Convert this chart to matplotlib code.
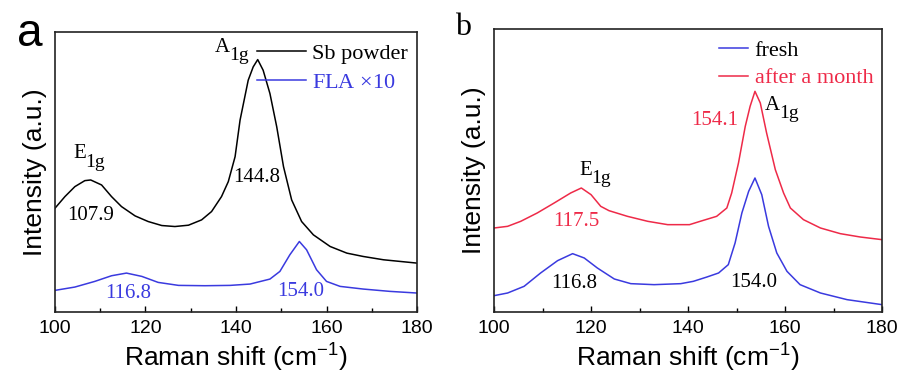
import numpy as np
import matplotlib.pyplot as plt
from matplotlib.transforms import offset_copy

plt.rcParams.update({'font.family': 'Liberation Sans',
                     'mathtext.fontset': 'custom',
                     'mathtext.rm': 'Liberation Serif',
                     'mathtext.sf': 'Liberation Sans'})

# Raman spectra, (a) Sb powder vs FLA (x10)
shift_sb = [100, 102.2, 104.4, 106.6, 107.9, 110.3, 112.5, 114.7, 117.7, 120.6, 123.6,
            126.5, 129.5, 132.4, 134.6, 136.8, 138.3, 139.8, 140.9, 142.7, 143.8, 144.8,
            146.0, 147.5, 149.0, 150.5, 152.3, 154.5, 157.1, 160.8, 164.5, 168.1, 172.6,
            180]
int_sb = [312, 347, 377, 395, 397, 382, 347, 317, 289, 272, 260,
          257, 261, 277, 302, 347, 392, 467, 577, 697, 737, 759,
          727, 657, 557, 437, 337, 272, 232, 197, 177, 167, 157,
          147]

shift_fla = [100, 104.4, 108.8, 112.5, 115.8, 119.2, 122.8, 127.3, 133.1, 138.7, 143.1,
             147.5, 149.7, 151.9, 154.0, 155.6, 157.8, 160.0, 163.0, 168.1, 174.0, 180]
int_fla = [65, 75, 92, 109, 117, 107, 89, 80, 79, 80, 84,
           99, 122, 172, 212, 187, 127, 92, 77, 69, 62, 57]

# (b) FLA fresh vs after a month
shift_month = [100, 102.8, 105.5, 108.9, 112.4, 115.8, 118.0, 120.0, 122.0, 123.7, 127.5,
               131.7, 135.8, 140.3, 142.5, 145.9, 148.0, 149.0, 150.4, 151.8, 152.8, 153.8,
               154.9, 156.2, 158.0, 159.7, 161.1, 163.8, 167.3, 171.4, 175.5, 180]
int_month = [252, 257, 272, 297, 327, 357, 372, 352, 317, 304, 287,
             272, 262, 262, 272, 287, 312, 357, 447, 557, 617, 662,
             627, 537, 427, 357, 312, 277, 252, 235, 225, 217]

shift_fresh = [100, 102.8, 106.2, 109.6, 113.1, 116.2, 118.6, 121.3, 124.8, 128.2, 133.0,
               138.5, 141.1, 143.9, 146.3, 148.3, 149.7, 151.1, 152.5, 153.8, 155.2, 156.6,
               158.3, 160.4, 163.1, 167.3, 172.8, 180]
int_fresh = [49, 57, 77, 117, 154, 175, 162, 132, 99, 85, 82,
             85, 92, 105, 117, 142, 207, 297, 362, 402, 352, 257,
             177, 122, 82, 57, 37, 22]

blue = '#3a3adf'
red = '#ee2a48'
serif = 'Liberation Serif'


def mode_label(ax, x, y, main, sub, color='black'):
    # phonon mode name with a lowered subscript
    t = ax.text(x, y, main, fontsize=15, family=serif, color=color)
    w = 0.722 * 15 if main == 'A' else 0.611 * 15
    tr = offset_copy(ax.transData, fig=ax.figure, x=w - 0.5, y=-6, units='points')
    ax.text(x, y, sub, fontsize=14, family=serif, color=color, transform=tr)
    return t


fig = plt.figure(figsize=(9.04, 3.79), dpi=100)
ax1 = fig.add_axes([0.0608, 0.1768, 0.4005, 0.7388])
ax2 = fig.add_axes([0.5465, 0.1768, 0.4292, 0.7467])

ax1.plot(shift_sb, int_sb, color='black', lw=1.1, label='Sb powder')
ax1.plot(shift_fla, int_fla, color=blue, lw=1.1, label=r'FLA $\times$10')
ax1.set_ylim(0, 842)

ax2.plot(shift_fresh, int_fresh, color=blue, lw=1.1, label='fresh')
ax2.plot(shift_month, int_month, color=red, lw=1.1, label='after a month')
ax2.set_ylim(0, 849)

for ax in (ax1, ax2):
    ax.set_xlim(100, 180)
    ax.set_xticks(np.arange(100, 181, 20))
    ax.set_xticks(np.arange(110, 180, 20), minor=True)
    ax.set_yticks([])
    ax.tick_params(axis='x', direction='in', length=4, width=1, labelsize=14, pad=6)
    ax.tick_params(axis='x', which='minor', direction='in', length=3, width=1)
    ax.set_xlabel(r'Raman shift (cm$^{\mathsf{-1}}$)', fontsize=19, labelpad=2)
    ax.set_ylabel('Intensity (a.u.)', fontsize=19, labelpad=6)
    for s in ax.spines.values():
        s.set_linewidth(1.2)
        s.set_color('#222222')

# peak labels (a)
mode_label(ax1, 104, 462, 'E', '1g')
ax1.text(102.6, 277, '107.9', fontsize=15, family=serif)
ax1.text(144.6, 392, '144.8', fontsize=15, family=serif, ha='center')
mode_label(ax1, 135.4, 782, 'A', '1g')
ax1.text(116.2, 42, '116.8', fontsize=15, family=serif, ha='center', color=blue)
ax1.text(154.2, 47, '154.0', fontsize=15, family=serif, ha='center', color=blue)

# peak labels (b)
mode_label(ax2, 117.6, 412, 'E', '1g')
ax2.text(117.0, 257, '117.5', fontsize=15, family=serif, ha='center', color=red)
ax2.text(116.5, 72, '116.8', fontsize=15, family=serif, ha='center')
ax2.text(150.4, 562, '154.1', fontsize=15, family=serif, ha='right', color=red)
mode_label(ax2, 155.9, 607, 'A', '1g')
ax2.text(153.5, 75, '154.0', fontsize=15, family=serif, ha='center')

leg1 = ax1.legend(loc='upper right', frameon=False, prop={'family': serif, 'size': 16},
                  handlelength=2.2, handletextpad=0.3, labelspacing=0.35,
                  borderaxespad=0.0, bbox_to_anchor=(1.0, 0.99))
for t, c in zip(leg1.get_texts(), ['black', blue]):
    t.set_color(c)

leg2 = ax2.legend(loc='upper right', frameon=False, prop={'family': serif, 'size': 16},
                  handlelength=1.3, handletextpad=0.3, labelspacing=0.3,
                  borderaxespad=0.0, bbox_to_anchor=(1.0, 0.99))
for t, c in zip(leg2.get_texts(), ['black', red]):
    t.set_color(c)

fig.text(17 / 904, 1 - 46 / 379, 'a', fontsize=33, family='Liberation Sans')
fig.text(455 / 904, 1 - 35 / 379, 'b', fontsize=23, family=serif)

fig.savefig('out.png', dpi=100)
